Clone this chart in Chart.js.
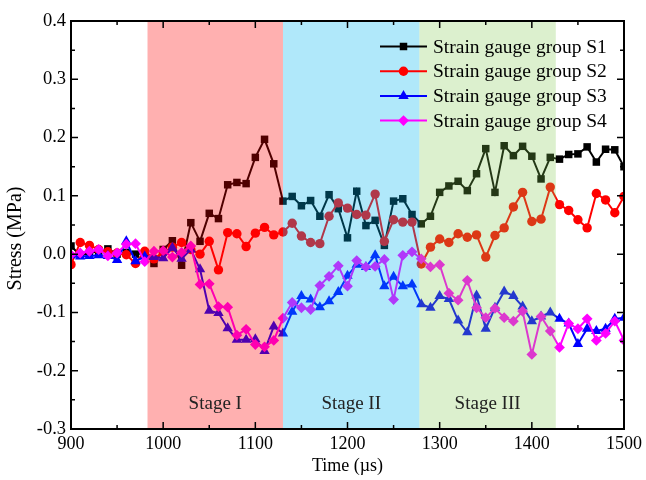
<!DOCTYPE html>
<html>
<head>
<meta charset="utf-8">
<title>Stress vs time</title>
<script src="https://cdn.jsdelivr.net/npm/chart.js@4.4.1/dist/chart.umd.min.js"></script>
<style>
  body { margin: 0; background: #fff; }
  canvas { display: block; }
</style>
</head>
<body>
<canvas id="myChart" width="646" height="480"></canvas>
<script>
// time axis, one reading every 10 us
const times = [
  900, 910, 920, 930, 940, 950, 960, 970, 980, 990,
  1000, 1010, 1020, 1030, 1040, 1050, 1060, 1070, 1080, 1090,
  1100, 1110, 1120, 1130, 1140, 1150, 1160, 1170, 1180, 1190,
  1200, 1210, 1220, 1230, 1240, 1250, 1260, 1270, 1280, 1290,
  1300, 1310, 1320, 1330, 1340, 1350, 1360, 1370, 1380, 1390,
  1400, 1410, 1420, 1430, 1440, 1450, 1460, 1470, 1480, 1490, 1500,
];

const s1 = [
  0.014, -0.002, 0.002, 0.005, 0.009, 0.000, 0.003, 0.000, 0.002, -0.016,
  0.008, 0.023, -0.019, 0.054, 0.022, 0.070, 0.061, 0.119, 0.123, 0.121,
  0.166, 0.197, 0.155, 0.091, 0.099, 0.083, 0.092, 0.065, 0.102, 0.078,
  0.028, 0.108, 0.049, 0.058, 0.015, 0.091, 0.095, 0.068, 0.052, 0.065,
  0.106, 0.117, 0.125, 0.109, 0.138, 0.181, 0.106, 0.186, 0.169, 0.185,
  0.168, 0.129, 0.166, 0.163, 0.171, 0.172, 0.184, 0.158, 0.180, 0.179, 0.150,
];

const s2 = [
  -0.018, 0.020, 0.015, 0.008, 0.004, 0.002, -0.001, -0.016, 0.005, -0.008,
  0.003, 0.012, 0.020, 0.008, 0.000, 0.022, -0.027, 0.037, 0.035, 0.013,
  0.036, 0.046, 0.033, 0.038, 0.053, 0.031, 0.020, 0.018, 0.065, 0.088,
  0.079, 0.068, 0.067, 0.103, 0.022, 0.059, 0.055, 0.055, -0.017, 0.012,
  0.026, 0.020, 0.035, 0.029, 0.033, -0.005, 0.032, 0.045, 0.081, 0.106,
  0.056, 0.060, 0.115, 0.085, 0.075, 0.059, 0.045, 0.104, 0.093, 0.071, 0.099,
];

const s3 = [
  -0.002, -0.004, -0.003, -0.002, -0.003, -0.010, 0.022, -0.012, -0.004, -0.005,
  -0.007, 0.011, -0.008, 0.008, -0.026, -0.097, -0.101, -0.127, -0.147, -0.147,
  -0.146, -0.166, -0.124, -0.136, -0.099, -0.072, -0.078, -0.091, -0.081, -0.065,
  -0.037, -0.018, -0.022, -0.002, -0.055, -0.039, -0.055, -0.052, -0.086, -0.092,
  -0.072, -0.077, -0.114, -0.134, -0.071, -0.128, -0.092, -0.064, -0.072, -0.090,
  -0.115, -0.107, -0.100, -0.111, -0.119, -0.154, -0.128, -0.132, -0.128, -0.111, -0.109,
];

const s4 = [
  -0.001, 0.002, 0.005, 0.008, -0.003, 0.002, 0.017, 0.018, -0.013, 0.005,
  0.006, -0.005, 0.003, 0.014, -0.052, -0.051, -0.090, -0.091, -0.139, -0.129,
  -0.155, -0.159, -0.148, -0.110, -0.083, -0.092, -0.095, -0.054, -0.038, -0.020,
  -0.055, -0.011, -0.022, -0.021, -0.009, -0.078, -0.002, 0.004, -0.008, -0.022,
  -0.018, -0.067, -0.079, -0.045, -0.092, -0.109, -0.093, -0.109, -0.115, -0.098,
  -0.172, -0.107, -0.132, -0.160, -0.119, -0.128, -0.111, -0.148, -0.136, -0.115, -0.148,
];

const seriesNames = [
  "Strain gauge group S1",
  "Strain gauge group S2",
  "Strain gauge group S3",
  "Strain gauge group S4",
];
const seriesColors = ["#000000", "#ff0000", "#0000ff", "#ff00ff"];
const seriesMarkers = ["rect", "circle", "triangle", "rectRot"];
const markerSizes = [5.3, 4.7, 6, 5.4];

// stage bands: start, end (us)
const stageNames = ["Stage I", "Stage II", "Stage III"];
const stageStart = [983, 1130, 1278];
const stageEnd = [1130, 1278, 1426];
const stageColors = [
  "rgba(255, 0, 0, 0.31)",
  "rgba(0, 180, 240, 0.31)",
  "rgba(128, 200, 80, 0.28)",
];

const xTicks = [900, 1000, 1100, 1200, 1300, 1400, 1500];
const yTicks = [-0.3, -0.2, -0.1, 0.0, 0.1, 0.2, 0.3, 0.4];

const serif = "'Liberation Serif', 'Times New Roman', serif";

const drawMarker = (ctx, style, x, y, r) => {
  ctx.beginPath();
  if (style === "rect") {
    const h = r * Math.SQRT1_2;
    ctx.rect(x - h, y - h, 2 * h, 2 * h);
  } else if (style === "circle") {
    ctx.arc(x, y, r, 0, Math.PI * 2);
  } else if (style === "triangle") {
    for (let k = 0; k < 3; k++) {
      const a = (k * 2 * Math.PI) / 3;
      const px = x + Math.sin(a) * r;
      const py = y - Math.cos(a) * r;
      k === 0 ? ctx.moveTo(px, py) : ctx.lineTo(px, py);
    }
    ctx.closePath();
  } else {
    ctx.moveTo(x, y - r);
    ctx.lineTo(x + r, y);
    ctx.lineTo(x, y + r);
    ctx.lineTo(x - r, y);
    ctx.closePath();
  }
  ctx.fill();
};

const decorations = {
  id: "decorations",
  afterDatasetsDraw(chart) {
    const { ctx, chartArea: a, scales } = chart;
    const xs = scales.x;
    const ys = scales.y;
    ctx.save();

    // translucent stage bands over the curves
    stageNames.forEach((name, i) => {
      const x0 = xs.getPixelForValue(stageStart[i]);
      const x1 = xs.getPixelForValue(stageEnd[i]);
      ctx.fillStyle = stageColors[i];
      ctx.fillRect(x0, a.top, x1 - x0, a.bottom - a.top);
      ctx.fillStyle = "#222";
      ctx.font = "19px " + serif;
      ctx.textAlign = "center";
      ctx.textBaseline = "middle";
      ctx.fillText(name, (x0 + x1) / 2, ys.getPixelForValue(-0.257));
    });

    // frame
    ctx.strokeStyle = "#000";
    ctx.lineWidth = 2;
    ctx.strokeRect(a.left, a.top, a.right - a.left, a.bottom - a.top);

    // inward ticks, all four sides
    ctx.lineWidth = 1.5;
    ctx.beginPath();
    for (let t = 900; t <= 1500; t += 50) {
      const px = xs.getPixelForValue(t);
      const len = t % 100 === 0 ? 7 : 4;
      ctx.moveTo(px, a.bottom);
      ctx.lineTo(px, a.bottom - len);
      ctx.moveTo(px, a.top);
      ctx.lineTo(px, a.top + len);
    }
    for (let k = -6; k <= 8; k++) {
      const py = ys.getPixelForValue(k * 0.05);
      const len = k % 2 === 0 ? 7 : 4;
      ctx.moveTo(a.left, py);
      ctx.lineTo(a.left + len, py);
      ctx.moveTo(a.right, py);
      ctx.lineTo(a.right - len, py);
    }
    ctx.stroke();

    // y title
    ctx.save();
    ctx.translate(15.5, 238.5);
    ctx.rotate(-Math.PI / 2);
    ctx.fillStyle = "#000";
    ctx.font = "20px " + serif;
    ctx.textAlign = "center";
    ctx.textBaseline = "middle";
    ctx.fillText("Stress (MPa)", 0, 0);
    ctx.restore();

    // legend
    ctx.font = "19.5px " + serif;
    ctx.textAlign = "left";
    ctx.textBaseline = "middle";
    seriesNames.forEach((name, i) => {
      const y = 46.5 + i * 24.7;
      ctx.strokeStyle = seriesColors[i];
      ctx.fillStyle = seriesColors[i];
      ctx.lineWidth = 2;
      ctx.beginPath();
      ctx.moveTo(380, y);
      ctx.lineTo(427, y);
      ctx.stroke();
      drawMarker(ctx, seriesMarkers[i], 403.5, y, markerSizes[i]);
      ctx.fillStyle = "#000";
      ctx.fillText(name, 433, y + 1);
    });

    ctx.restore();
  },
};

const seriesValues = [s1, s2, s3, s4];

const datasets = seriesValues.map((vals, i) => ({
  label: seriesNames[i],
  data: times.map((t, j) => ({ x: t, y: vals[j] })),
  borderColor: seriesColors[i],
  backgroundColor: seriesColors[i],
  borderWidth: 2,
  pointStyle: seriesMarkers[i],
  pointRadius: markerSizes[i],
  pointBorderWidth: 0,
  tension: 0,
  order: 4 - i,
}));

new Chart(document.getElementById("myChart"), {
  type: "line",
  data: { datasets },
  plugins: [decorations],
  options: {
    responsive: false,
    animation: false,
    devicePixelRatio: 1,
    layout: { padding: { left: 0, top: 21, right: 21, bottom: 0 } },
    plugins: {
      legend: { display: false },
      tooltip: { enabled: false },
    },
    scales: {
      x: {
        type: "linear",
        min: 900,
        max: 1500,
        afterFit: (s) => { s.height = 51; },
        afterBuildTicks: (s) => { s.ticks = xTicks.map((v) => ({ value: v })); },
        grid: { display: false, drawTicks: false },
        border: { display: false },
        ticks: {
          color: "#000",
          padding: 4,
          maxRotation: 0,
          font: { family: serif, size: 18 },
          callback: (v) => String(v),
        },
        title: {
          display: true,
          text: "Time (\u00b5s)",
          color: "#000",
          font: { family: serif, size: 18 },
          padding: { top: 0, bottom: 3 },
        },
      },
      y: {
        min: -0.3,
        max: 0.4,
        afterFit: (s) => { s.width = 71; },
        afterBuildTicks: (s) => { s.ticks = yTicks.map((v) => ({ value: v })); },
        grid: { display: false, drawTicks: false },
        border: { display: false },
        ticks: {
          color: "#000",
          padding: 5,
          font: { family: serif, size: 18.5 },
          callback: (v) => (Math.abs(v) < 1e-9 ? 0 : v).toFixed(1),
        },
      },
    },
  },
});
</script>
</body>
</html>
